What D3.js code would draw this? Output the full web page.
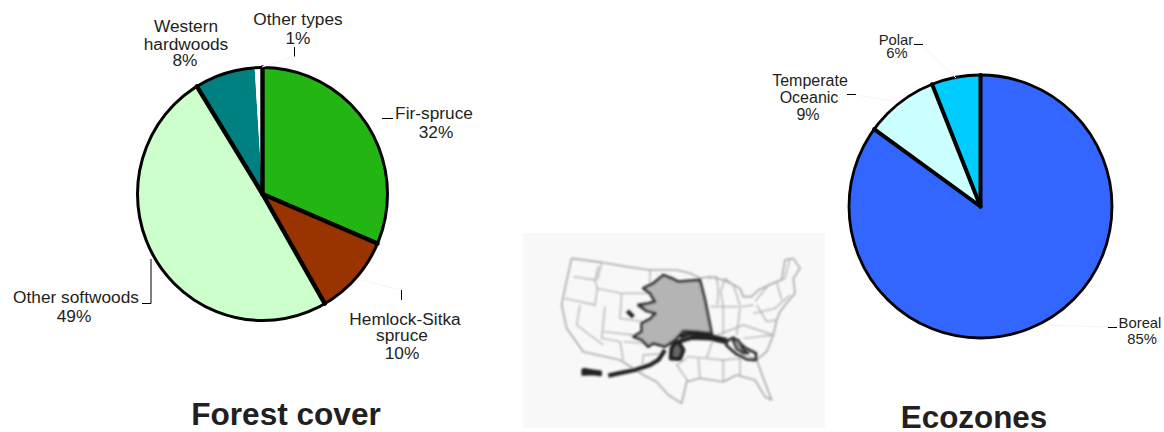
<!DOCTYPE html>
<html><head><meta charset="utf-8">
<script src="https://cdn.jsdelivr.net/npm/d3@7"></script>
<style>
html,body{margin:0;padding:0;background:#fff}
svg{display:block}
text{font-family:"Liberation Sans",Arial,sans-serif;fill:#231f20}
</style></head><body>
<svg id="c" width="1164" height="432"></svg>
<script>
// Forest cover
const forestCategories = ["Fir-spruce","Hemlock-Sitka spruce","Other softwoods","Western hardwoods","Other types"];
const forestValues = [31.4,10.3,49.5,7.8,1.0];
const forestColors = ["#22b514","#993300","#ccffcc","#008080","#ffffff"];
const forestThinStart = [false,false,false,false,true];
// Ecozones
const ecoCategories = ["Boreal","Temperate Oceanic","Polar"];
const ecoValues = [85,9,6];
const ecoColors = ["#3366ff","#ccffff","#00ccff"];
const ecoThinStart = [false,false,false];
// Label text, one row per line: [text, x, baseline]
const forestLabels = [
 ["Western",186,32],["hardwoods",186,50],["8%",185,66],
 ["Other types",298,25],["1%",298,44],
 ["Fir-spruce",434,119],["32%",436,138],
 ["Other softwoods",76,303],["49%",74,322],
 ["Hemlock-Sitka",405,325],["spruce",402,341],["10%",402,359]];
const ecoLabelsLarge = [["Temperate",810,86],["Oceanic",809,103],["9%",808,120]];
const ecoLabelsSmall = [["Polar",896,45],["6%",897,58],["Boreal",1140,328],["85%",1142,344]];
// Leader ticks and faint leaders
const leaders = [
 [[382,118.5],[393,118.5]],[[294.5,47],[294.5,56.5]],[[151,259],[151,303.5],[142,303.5]],[[401.5,290],[401.5,300]],
 [[914,44.5],[923,44.5]],[[847,94.5],[856,94.5]],[[1108,327.5],[1117,327.5]]];
const faintLeaders = [
 [[371,126],[382,119]],[[262,67],[294,57]],[[358,279],[401,290]],
 [[956,78],[923,46]],[[898,102],[856,95]],[[1048,325],[1108,327]]];
// Inset map, traced in the inset's own space
const usOutline = [[185,100],[275,112],[350,125],[420,135],[500,135],[540,145],[570,160],[600,155],[640,165],[672,180],[690,190],[700,215],[725,215],[745,195],[800,170],[815,165],[825,105],[850,100],[870,130],[850,160],[855,205],[825,240],[810,260],[800,285],[790,330],[770,380],[740,405],[760,460],[785,525],[765,515],[735,465],[680,450],[640,470],[570,460],[530,470],[515,535],[475,510],[440,470],[400,450],[330,405],[220,380],[170,310],[155,240],[165,190],[185,100]];
const stateLines = [
 [[190,155],[255,165],[265,125]],[[165,220],[255,240],[262,190],[255,165]],[[262,190],[335,205],[420,205]],
 [[275,112],[262,165]],[[210,240],[200,300],[280,360]],[[285,245],[275,340],[330,350],[340,405]],
 [[335,205],[330,280],[400,290]],[[280,320],[370,330]],[[340,350],[470,360]],[[420,135],[420,205]],
 [[395,440],[400,390],[470,385]],[[530,395],[590,400],[640,405]],[[570,460],[565,400]],[[640,470],[640,405],[690,400]],
 [[600,245],[695,245],[730,240]],[[595,160],[620,155],[625,200],[622,240]],[[645,160],[632,200],[640,245]],[[645,160],[670,180],[690,240]],
 [[640,245],[640,330]],[[690,250],[680,330]],
 [[610,335],[700,300],[790,330]],[[735,230],[775,180],[825,160],[840,100]],[[730,265],[795,250],[840,210]],[[740,240],[770,290],[800,285]],
 [[700,340],[790,330]],[[690,395],[690,450]],[[800,170],[815,225]],[[745,400],[690,390]],
 [[590,400],[610,340]],[[530,400],[500,420],[535,470]]];
const alaskaBody = [[400,190],[430,175],[460,150],[485,160],[505,170],[570,165],[585,225],[605,325],[560,320],[520,318],[495,345],[465,365],[430,355],[415,365],[395,345],[370,335],[395,320],[395,295],[420,282],[437,265],[410,258],[385,240],[415,235],[435,230],[420,205]];
const alaskaCoast = [
 [[295,452],[325,445],[375,435],[420,420],[445,405],[465,375]],
 [[510,335],[540,325],[600,332],[650,345]],
 [[505,350],[545,338],[600,340],[655,352]]];
const alaskaBlob = [[485,370],[482,400],[510,402],[520,375],[505,350],[490,360]];
const alaskaThin = [[645,350],[670,338],[705,368],[738,385],[738,405],[710,403],[680,388],[650,362],[645,350]];
const alaskaIsle = [[668,345],[685,345],[700,375],[715,385],[700,385],[680,372],[668,345]];
const aleutians = [[[218,432],[250,437],[272,440],[272,450],[248,447],[218,448],[218,432]]];
const alaskaIsland = [[352,258],[370,276]];
const forestTitle = "Forest cover";
const ecoTitle = "Ecozones";

const svg = d3.select("#c");
const defs = svg.append("defs");
defs.append("filter").attr("id","soft").attr("x","-5%").attr("y","-5%").attr("width","110%").attr("height","110%")
  .append("feGaussianBlur").attr("stdDeviation",1.05);

// inset map
const mx = d3.scaleLinear().domain([0,330*3]).range([510,840]);
const my = d3.scaleLinear().domain([0,207*3]).range([225,432]);
const mapLine = d3.line().x(d=>mx(d[0])).y(d=>my(d[1]));
svg.append("rect").attr("x",523).attr("y",233).attr("width",302).attr("height",195).attr("fill","#f8f8f8");
const m = svg.append("g").attr("filter","url(#soft)").attr("fill","none").attr("stroke-linejoin","round");
m.append("path").attr("d",mapLine(usOutline)).attr("stroke","#a8a8a8").attr("stroke-width",1.6);
m.selectAll("path.s").data(stateLines).join("path").attr("class","s").attr("d",mapLine).attr("stroke","#b4b4b4").attr("stroke-width",1.4);
m.append("path").attr("d",mapLine(alaskaBody)+"Z").attr("fill","#b4b4b4").attr("stroke","#333").attr("stroke-width",2.8);
m.selectAll("path.c").data(alaskaCoast).join("path").attr("class","c").attr("d",mapLine).attr("stroke","#222").attr("stroke-width",4.2);
m.append("path").attr("d",mapLine(alaskaBlob)+"Z").attr("fill","#666").attr("stroke","#222").attr("stroke-width",4.2);
m.append("path").attr("d",mapLine(alaskaThin)).attr("stroke","#333").attr("stroke-width",2.8);
m.append("path").attr("d",mapLine(alaskaIsle)).attr("fill","#999").attr("stroke","#333").attr("stroke-width",2.4);
m.selectAll("path.a").data(aleutians).join("path").attr("class","a").attr("d",mapLine).attr("fill","#222").attr("stroke","#222").attr("stroke-width",2.6);
m.append("path").attr("d",mapLine(alaskaIsland)).attr("stroke","#222").attr("stroke-width",4.2);

// pies: fill, then radial separators, then the rim
function drawPie(values,colors,thin,cx,cy,r,stretchY,rimWidth,radialWidth){
  const arcs = d3.pie().sort(null)(values);
  const arc = d3.arc().innerRadius(0).outerRadius(r);
  const g = svg.append("g").attr("transform",`translate(${cx},${cy}) scale(1,${stretchY})`);
  g.selectAll("path.w").data(arcs).join("path").attr("class","w").attr("d",arc).attr("fill",(d,i)=>colors[i]);
  g.selectAll("line.r").data(arcs.filter((d,i)=>!thin[i])).join("line").attr("class","r")
    .attr("x1",0).attr("y1",0)
    .attr("x2",d=>r*Math.sin(d.startAngle)).attr("y2",d=>-r*Math.cos(d.startAngle))
    .attr("stroke","#000").attr("stroke-width",radialWidth).attr("stroke-linecap","round");
  g.append("circle").attr("r",r).attr("fill","none").attr("stroke","#000").attr("stroke-width",rimWidth);
}
drawPie(forestValues,forestColors,forestThinStart,262.5,194,125,1.012,3,4.4);
drawPie(ecoValues,ecoColors,ecoThinStart,980.5,206.5,131.5,1,2.8,4);

// leaders
const ll = d3.line();
svg.append("g").selectAll("path").data(faintLeaders).join("path").attr("d",ll).attr("fill","none").attr("stroke","#f5f5f5").attr("stroke-width",1);
svg.append("g").selectAll("path").data(leaders).join("path").attr("d",ll).attr("fill","none").attr("stroke","#000").attr("stroke-width",1);

// labels
function drawLabels(rows,size){
  svg.append("g").selectAll("text").data(rows).join("text")
   .attr("x",d=>d[1]).attr("y",d=>d[2]).attr("text-anchor","middle")
   .attr("font-size",size).text(d=>d[0]);
}
drawLabels(forestLabels,17.3);
drawLabels(ecoLabelsLarge,16);
drawLabels(ecoLabelsSmall,14.8);
svg.append("text").attr("x",286).attr("y",425).attr("text-anchor","middle").attr("font-size",31.6).attr("font-weight","bold").text(forestTitle);
svg.append("text").attr("x",974).attr("y",428).attr("text-anchor","middle").attr("font-size",31.4).attr("font-weight","bold").text(ecoTitle);
</script>
</body></html>
